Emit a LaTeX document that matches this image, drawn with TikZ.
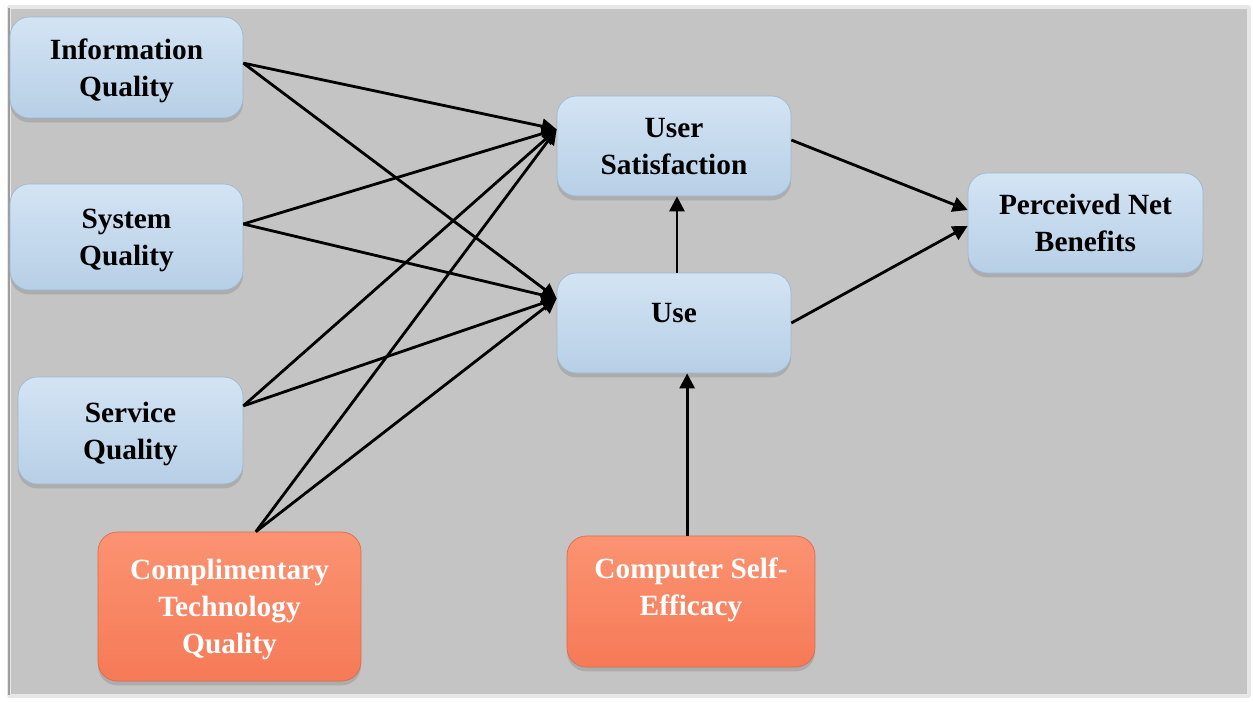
\documentclass[tikz,border=0pt]{standalone}
\usepackage{fontspec}
\setmainfont{Liberation Serif}
\usetikzlibrary{arrows.meta,shadows}
\definecolor{panel}{HTML}{C4C4C4}
\definecolor{bluetop}{HTML}{D3E4F4}
\definecolor{bluebot}{HTML}{B7CFE6}
\definecolor{bluerim}{HTML}{9DB8D2}
\definecolor{orangetop}{HTML}{FB9372}
\definecolor{orangebot}{HTML}{F67A57}
\definecolor{orangerim}{HTML}{E0694A}
\tikzset{
	box/.style={rounded corners=11pt, align=center, inner sep=2pt, text depth=0pt,
		font=\bfseries\fontsize{16.7}{21}\selectfont,
		drop shadow={shadow xshift=0pt, shadow yshift=-2.5pt, opacity=.35}},
	bluebox/.style={box, top color=bluetop, bottom color=bluebot, draw=bluerim, line width=.4pt},
	orangebox/.style={box, top color=orangetop, bottom color=orangebot, draw=orangerim, line width=.4pt, text=white},
	link/.style={->, line width=1.6pt}
}
\begin{document}
\begin{tikzpicture}[x=0.02cm,y=-0.02cm,>={Triangle[length=8.5pt,width=8.5pt]},line join=round]
	\useasboundingbox (0,0) rectangle (1253,701);
	% panel behind the model
	\fill[white] (0,0) rectangle (1253,701);
	\fill[panel] (8,6) rectangle (1250,697);
	\draw[white!60!panel, line width=2pt] (9,7) rectangle (1249,696);
	\draw[panel!80!black, line width=1pt] (9,8) -- (9,695);
	
	% quality dimensions
	\node[bluebox, minimum width=4.66cm, minimum height=2.02cm] (iq) at (126.5,67.5) {Information\\Quality};
	\node[bluebox, minimum width=4.66cm, minimum height=2.12cm] (sq) at (126.5,237) {System\\Quality};
	\node[bluebox, minimum width=4.50cm, minimum height=2.14cm] (svq) at (130.5,430.5) {Service\\Quality};
	\node[orangebox, minimum width=5.26cm, minimum height=2.98cm] (ctq) at (229.5,606.5) {Complimentary\\Technology\\Quality};
	
	% mediators and outcome
	\node[bluebox, minimum width=4.68cm, minimum height=2.00cm] (us) at (674,146) {User\\Satisfaction};
	\node[bluebox, minimum width=4.68cm, minimum height=2.00cm, text depth=11pt] (use) at (674,323) {Use};
	\node[bluebox, minimum width=4.70cm, minimum height=2.00cm] (pnb) at (1085.5,223) {Perceived Net\\Benefits};
	\node[orangebox, minimum width=4.96cm, minimum height=2.62cm, text depth=17pt] (cse) at (691,601.5) {Computer Self-\\Efficacy};
	
	\path
	([yshift=9.5pt]us.west) coordinate (US)
	([yshift=14pt]use.west) coordinate (U)
	([yshift=2.5pt]iq.east) coordinate (IQ)
	([yshift=7.4pt]sq.east) coordinate (SQ)
	([yshift=14pt]svq.east) coordinate (SVQ)
	([xshift=15pt]ctq.north) coordinate (CTQ)
	;
	\foreach \src in {IQ,SQ,SVQ,CTQ}{
		\draw[link] (\src) -- (US);
		\draw[link] (\src) -- (U);
	}
	\draw[link] ([yshift=3.4pt]us.east) -- ([yshift=7.4pt]pnb.west);
	\draw[link] (use.east) -- ([yshift=-1.7pt]pnb.west);
	\draw[link] ([xshift=1.7pt]use.north) -- ([xshift=1.7pt]use.north |- us.south);
	\draw[link] ([xshift=-2.2pt]cse.north) -- ([xshift=-2.2pt]cse.north |- use.south);
\end{tikzpicture}
\end{document}
